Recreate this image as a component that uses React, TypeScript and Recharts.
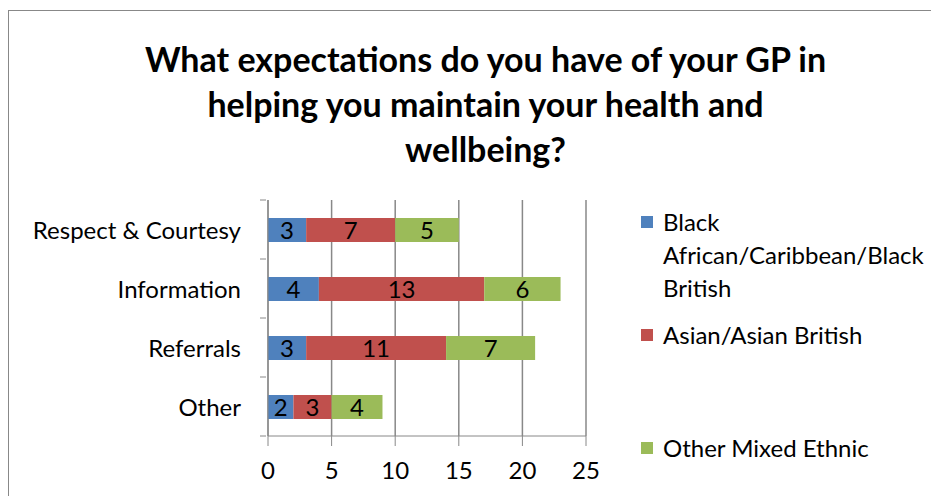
import React from 'react';
import { BarChart, Bar, XAxis, YAxis, CartesianGrid, LabelList } from 'recharts';

// --- data ---
const categories = ['Respect & Courtesy', 'Information', 'Referrals', 'Other'];
const blackValues = [3, 4, 3, 2];
const asianValues = [7, 13, 11, 3];
const otherValues = [5, 6, 7, 4];
const xTicks = [0, 5, 10, 15, 20, 25];

const SERIES = [
    { key: 'black', name: 'Black African/Caribbean/Black British', color: '#4F81BD' },
    { key: 'asian', name: 'Asian/Asian British', color: '#C0504D' },
    { key: 'other', name: 'Other Mixed Ethnic', color: '#9BBB59' },
];

const chartData = categories.map((c, i) => ({
    name: c,
    black: blackValues[i],
    asian: asianValues[i],
    other: otherValues[i],
}));

const FONT = 'Lato, "Open Sans", sans-serif';
const BAND = 59;
const FS = 24;

const CategoryTick = (props: any) => {
    const { x, y, payload, index } = props;
    const axisX = x + 6;
    return (
        <g>
            <text x={x - 19} y={y} textAnchor="end" dominantBaseline="central" fontSize={FS} fontFamily={FONT} fill="#000">
                {payload.value}
            </text>
            <line x1={axisX - 6} x2={axisX} y1={y - BAND / 2} y2={y - BAND / 2} stroke="#888" />
            {index === categories.length - 1 && (
                <line x1={axisX - 6} x2={axisX} y1={y + BAND / 2} y2={y + BAND / 2} stroke="#888" />
            )}
        </g>
    );
};

const App: React.FC = () => {
    return (
        <div style={{ position: 'relative', width: 931, height: 488, overflow: 'hidden', fontFamily: FONT }}>
            <div style={{ position: 'absolute', left: 0, top: 2, width: 960, height: 520, border: '1px solid #888', boxSizing: 'border-box' }} />
            <div style={{ position: 'absolute', left: 0, top: 28, width: 955, textAlign: 'center', fontWeight: 700, fontSize: 34, lineHeight: '45px', color: '#000' }}>
                What expectations do you have of your GP in<br />
                helping you maintain your health and<br />
                wellbeing?
            </div>
            <div style={{ position: 'absolute', left: 0, top: 172 }}>
                <BarChart
                    width={600}
                    height={306}
                    data={chartData}
                    layout="vertical"
                    margin={{ top: 20, right: 22, bottom: 0, left: 0 }}
                    barSize={24}
                >
                    <CartesianGrid horizontal={false} stroke="#888" strokeWidth={1.5} />
                    <XAxis
                        type="number"
                        domain={[0, 25]}
                        ticks={xTicks}
                        interval={0}
                        tickSize={10}
                        height={50}
                        stroke="#888"
                        tick={{ fill: '#000', fontSize: FS, fontFamily: FONT, dy: 14 }}
                    />
                    <YAxis
                        type="category"
                        dataKey="name"
                        width={260}
                        tickLine={false}
                        stroke="#888"
                        tick={<CategoryTick />}
                    />
                    {SERIES.map(s => (
                        <Bar key={s.key} dataKey={s.key} name={s.name} stackId="a" fill={s.color} isAnimationActive={false}>
                            <LabelList dataKey={s.key} position="center" fill="#000" fontSize={FS} fontFamily={FONT} />
                        </Bar>
                    ))}
                </BarChart>
            </div>
            <div style={{ position: 'absolute', left: 633, top: 197, fontSize: FS, lineHeight: '33px', color: '#000' }}>
                <LegendItem color={SERIES[0].color} lines={['Black', 'African/Caribbean/Black', 'British']} top={0} />
                <LegendItem color={SERIES[1].color} lines={['Asian/Asian British']} top={113} />
                <LegendItem color={SERIES[2].color} lines={['Other Mixed Ethnic']} top={226} />
            </div>
        </div>
    );
};

const LegendItem: React.FC<{ color: string; lines: string[]; top: number }> = ({ color, lines, top }) => (
    <div style={{ position: 'absolute', left: 0, top, whiteSpace: 'nowrap' }}>
        <div style={{ position: 'absolute', left: 0, top: 11, width: 12, height: 12, background: color }} />
        <div style={{ position: 'absolute', left: 22, top: 0 }}>
            {lines.map((l, i) => <div key={i}>{l}</div>)}
        </div>
    </div>
);

export default App;
